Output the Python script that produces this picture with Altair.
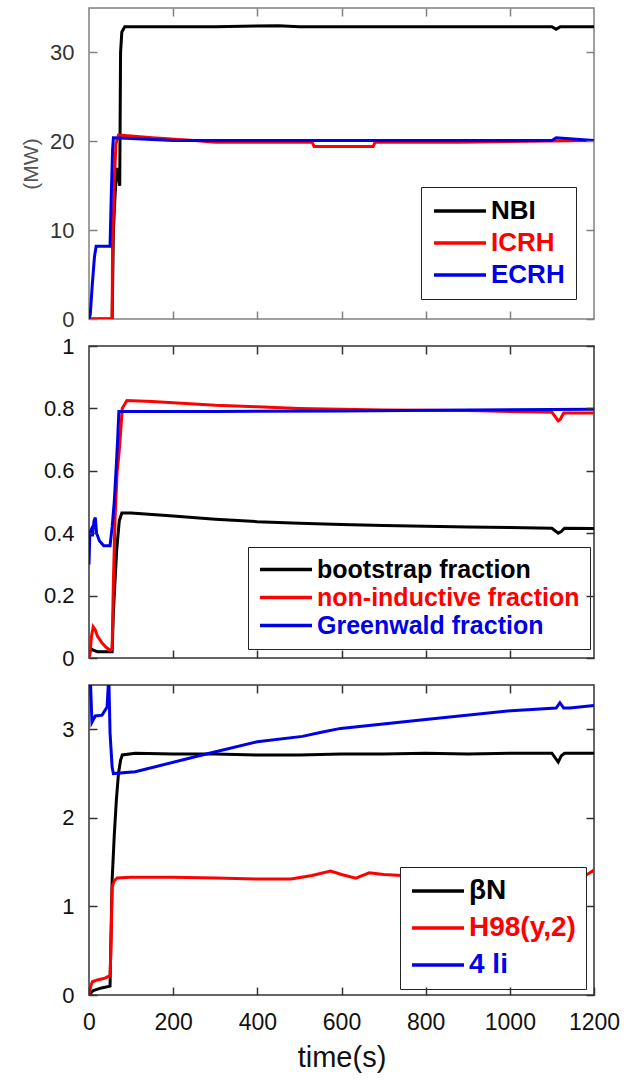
import altair as alt
import pandas as pd

FONT = "Liberation Sans"
BLACK, RED, BLUE = "#000000", "#ff0000", "#0000e6"

T_DOMAIN = [0, 1200]
X_TICKS = [200, 400, 600, 800, 1000]
X_LABELS = [0, 200, 400, 600, 800, 1000, 1200]

# ---------------- panel 1 : heating power (MW) ----------------
P1_NAMES = ["NBI", "ICRH", "ECRH"]
NBI_T = [0, 55, 58, 62, 66, 70, 73, 75, 78, 85, 150, 300, 450, 500, 700, 1100, 1110, 1120, 1200]
NBI_V = [0, 0, 10, 14, 17, 16, 15, 30, 32.3, 32.9, 32.9, 32.9, 33.0, 32.9, 32.9, 32.9, 32.6, 32.9, 32.9]
ICRH_T = [0, 55, 56, 60, 64, 70, 100, 150, 250, 300, 530, 535, 675, 680, 880, 1200]
ICRH_V = [0, 0, 8, 15.5, 19.7, 20.7, 20.6, 20.4, 20.1, 19.9, 19.9, 19.4, 19.4, 19.9, 19.9, 20.1]
ECRH_T = [0, 3, 8, 13, 17, 50, 53, 56, 58, 100, 200, 600, 1100, 1110, 1200]
ECRH_V = [0, 0.5, 4, 7, 8.2, 8.2, 14, 19, 20.4, 20.3, 20.1, 20.1, 20.1, 20.4, 20.1]
P1_YDOMAIN = [0, 35]
P1_YLABELS = [0, 10, 20, 30]

# ---------------- panel 2 : fractions ----------------
P2_NAMES = ["bootstrap fraction", "non-inductive fraction", "Greenwald fraction"]
BOOT_T = [0, 5, 10, 20, 40, 55, 58, 62, 66, 72, 78, 100, 200, 300, 400, 500, 600, 700, 800, 900, 1000, 1100, 1115, 1122, 1130, 1200]
BOOT_V = [0.01, 0.03, 0.025, 0.02, 0.02, 0.02, 0.15, 0.25, 0.35, 0.44, 0.465, 0.465, 0.455, 0.445, 0.437, 0.432, 0.428, 0.425, 0.422, 0.42, 0.418, 0.416, 0.40, 0.405, 0.416, 0.415]
NONIND_T = [0, 2, 6, 10, 15, 20, 30, 40, 50, 55, 58, 62, 67, 71, 75, 79, 90, 150, 200, 300, 400, 500, 600, 700, 800, 900, 1000, 1100, 1115, 1120, 1128, 1200]
NONIND_V = [0, 0.01, 0.07, 0.1, 0.09, 0.07, 0.05, 0.035, 0.025, 0.03, 0.25, 0.45, 0.6, 0.65, 0.72, 0.8, 0.825, 0.822, 0.818, 0.81, 0.805, 0.8, 0.797, 0.795, 0.794, 0.793, 0.79, 0.788, 0.76, 0.765, 0.785, 0.785]
GW_T = [0, 2, 5, 8, 12, 15, 18, 25, 35, 50, 55, 60, 65, 68, 71, 300, 600, 900, 1200]
GW_V = [0.30, 0.40, 0.41, 0.39, 0.44, 0.45, 0.40, 0.375, 0.36, 0.36, 0.42, 0.5, 0.62, 0.7, 0.79, 0.79, 0.792, 0.795, 0.797]
P2_YDOMAIN = [0, 1]
P2_YLABELS = [0, 0.2, 0.4, 0.6, 0.8, 1]

# ---------------- panel 3 : betaN, H98, 4li ----------------
P3_NAMES = ["βN", "H98(y,2)", "4 li"]
BETAN_T = [0, 10, 30, 50, 52, 55, 60, 65, 70, 75, 79, 110, 200, 300, 400, 500, 600, 700, 800, 900, 1000, 1100, 1115, 1122, 1130, 1200]
BETAN_V = [0, 0.05, 0.08, 0.1, 0.6, 1.3, 1.8, 2.2, 2.5, 2.65, 2.71, 2.73, 2.72, 2.72, 2.71, 2.71, 2.72, 2.72, 2.73, 2.72, 2.73, 2.73, 2.63, 2.7, 2.73, 2.73]
H98_T = [0, 4, 8, 20, 38, 50, 52, 55, 60, 67, 100, 200, 300, 400, 480, 530, 574, 600, 634, 666, 700, 745, 850, 950, 1050, 1150, 1180, 1200]
H98_V = [0, 0.1, 0.15, 0.17, 0.19, 0.22, 0.5, 1.22, 1.29, 1.32, 1.33, 1.33, 1.32, 1.31, 1.31, 1.35, 1.40, 1.36, 1.32, 1.38, 1.36, 1.35, 1.35, 1.35, 1.34, 1.32, 1.35, 1.41]
LI4_T = [0, 3, 7, 15, 31, 43, 47, 50, 55, 58, 110, 269, 400, 507, 555, 598, 800, 1003, 1110, 1119, 1128, 1143, 1200]
LI4_V = [3.6, 3.6, 3.08, 3.15, 3.16, 3.25, 3.6, 2.96, 2.57, 2.5, 2.52, 2.71, 2.86, 2.92, 2.97, 3.01, 3.11, 3.21, 3.24, 3.30, 3.24, 3.24, 3.27]
P3_YDOMAIN = [0, 3.5]
P3_YLABELS = [0, 1, 2, 3]


def series_df(name, ts, vs):
    return pd.DataFrame({"t": ts, "v": vs, "s": name})


def label_color_expr(names):
    return (f"datum.label == '{names[0]}' ? '{BLACK}' : "
            f"(datum.label == '{names[1]}' ? '{RED}' : '{BLUE}')")


# inward-pointing ticks: axis moved inside by its own tick length
TICK = dict(ticks=True, tickSize=8, offset=-8, domain=False, grid=False,
            tickWidth=1.5, zindex=2)


def panel(names, data, ydomain, ylabels, height, frame, label_color,
          leg, x_axis=False, ytitle=None):
    xs = alt.Scale(domain=T_DOMAIN, nice=False, zero=False)
    ys = alt.Scale(domain=ydomain, nice=False, zero=False)
    cs = alt.Scale(domain=names, range=[BLACK, RED, BLUE])
    legend = alt.Legend(
        orient="none", legendX=leg["x"], legendY=leg["y"], title=None,
        symbolType="stroke", symbolSize=2704, symbolStrokeWidth=3.5,
        labelFont=FONT, labelFontWeight="bold", labelFontSize=leg["fs"],
        clipHeight=leg["fs"], rowPadding=leg["rp"], padding=leg["pad"],
        labelOffset=3, labelLimit=0, strokeColor="#222222", fillColor="white",
        zindex=1,
        labelColor=alt.ExprRef(expr=label_color_expr(names)),
    )
    if x_axis:
        xaxis = alt.Axis(orient="bottom", values=X_LABELS, tickColor=frame,
                         labelFont=FONT, labelFontSize=23, labelColor="#111",
                         labelPadding=16, labelFlush=False, format="d",
                         title="time(s)", titleFont=FONT, titleFontSize=29,
                         titleFontWeight="normal", titleColor="#111",
                         titlePadding=9, **TICK)
    else:
        xaxis = alt.Axis(orient="bottom", values=X_TICKS, labels=False,
                         tickColor=frame, title=None, **TICK)
    yaxis = alt.Axis(orient="left", values=ylabels, tickColor=frame,
                     labelFont=FONT, labelFontSize=22, labelColor=label_color,
                     labelPadding=15, format="~r",
                     title=ytitle if ytitle else None, titleFont=FONT,
                     titleFontSize=21, titleFontWeight="normal",
                     titleColor="#555555", titlePadding=8, **TICK)
    xaxis_top = alt.Axis(orient="top", values=X_TICKS, labels=False,
                         tickColor=frame, title=None, **TICK)
    yaxis_right = alt.Axis(orient="right", values=ylabels, labels=False,
                           tickColor=frame, title=None, **TICK)
    layers = []
    for i, (nm, (ts, vs)) in enumerate(zip(names, data)):
        layers.append(
            alt.Chart(series_df(nm, ts, vs))
            .mark_line(strokeWidth=3, clip=True)
            .encode(
                x=alt.X("t:Q", scale=xs, axis=xaxis if i == 0 else None),
                y=alt.Y("v:Q", scale=ys, axis=yaxis if i == 0 else None),
                color=alt.Color("s:N", scale=cs, legend=legend),
            )
        )
    # transparent layer only carrying the mirrored (top / right) tick axes
    ts0, vs0 = data[0]
    layers.append(
        alt.Chart(series_df(names[0], ts0, vs0))
        .mark_line(opacity=0)
        .encode(
            x=alt.X("t:Q", scale=xs, axis=xaxis_top),
            y=alt.Y("v:Q", scale=ys, axis=yaxis_right),
        )
    )
    return alt.layer(*layers).resolve_axis(x="independent", y="independent").properties(
        width=505, height=height,
        view=alt.ViewBackground(stroke=frame, strokeWidth=1.5),
    )


p1 = panel(P1_NAMES, [(NBI_T, NBI_V), (ICRH_T, ICRH_V), (ECRH_T, ECRH_V)],
           P1_YDOMAIN, P1_YLABELS, 311, "#808080", "#333333",
           dict(x=332, y=179, fs=26, rp=6, pad=11), ytitle="(MW)")
p2 = panel(P2_NAMES, [(BOOT_T, BOOT_V), (NONIND_T, NONIND_V), (GW_T, GW_V)],
           P2_YDOMAIN, P2_YLABELS, 312, "#333333", "#111111",
           dict(x=159, y=201, fs=25, rp=2, pad=10))
p3 = panel(P3_NAMES, [(BETAN_T, BETAN_V), (H98_T, H98_V), (LI4_T, LI4_V)],
           P3_YDOMAIN, P3_YLABELS, 310, "#333333", "#111111",
           dict(x=311, y=182, fs=28, rp=9, pad=10), x_axis=True)

chart = alt.vconcat(p1, p2, p3, spacing=27, bounds="flush").resolve_scale(
    color="independent", x="independent", y="independent"
).properties(
    padding={"left": 19, "top": 6, "right": 0, "bottom": 0},
    background="white",
)

chart.save("out.html", embed_options={"renderer": "svg", "actions": False})
